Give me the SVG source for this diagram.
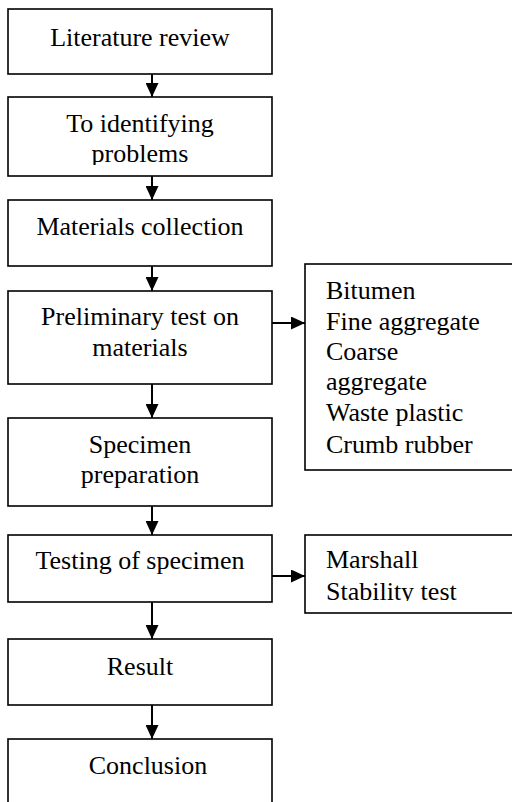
<svg xmlns="http://www.w3.org/2000/svg" width="512" height="802" viewBox="0 0 512 802">
<style>
.box{fill:#fff;stroke:#000;stroke-width:1.6}
.t{font-family:"Liberation Serif","Times New Roman",serif;font-size:26px;fill:#000}
.c{text-anchor:middle}
.conn{stroke:#000;stroke-width:2;fill:none}
</style>
<defs>
<marker id="ah" markerWidth="14" markerHeight="13" refX="14" refY="6.5" orient="auto" markerUnits="userSpaceOnUse">
<path d="M0,0 L14,6.5 L0,13 Z" fill="#000"/>
</marker>
<clipPath id="clip2"><rect x="0" y="97" width="280" height="68"/></clipPath>
<clipPath id="clipS2"><rect x="300" y="535" width="212" height="66"/></clipPath>
</defs>
<rect width="512" height="802" fill="#fff"/>
<g id="connectors">
<line class="conn" x1="152" y1="74" x2="152" y2="97" marker-end="url(#ah)"/>
<line class="conn" x1="152" y1="176" x2="152" y2="200" marker-end="url(#ah)"/>
<line class="conn" x1="152" y1="266" x2="152" y2="291" marker-end="url(#ah)"/>
<line class="conn" x1="152" y1="384" x2="152" y2="418" marker-end="url(#ah)"/>
<line class="conn" x1="152" y1="506" x2="152" y2="535" marker-end="url(#ah)"/>
<line class="conn" x1="152" y1="602" x2="152" y2="639" marker-end="url(#ah)"/>
<line class="conn" x1="152" y1="705" x2="152" y2="739" marker-end="url(#ah)"/>
<line class="conn" x1="272" y1="323" x2="305" y2="323" marker-end="url(#ah)"/>
<line class="conn" x1="272" y1="576" x2="305" y2="576" marker-end="url(#ah)"/>
</g>
<g id="n1">
<rect class="box" x="8" y="9" width="264" height="65"/>
<text class="t c" x="140" y="46">Literature review</text>
</g>
<g id="n2">
<rect class="box" x="8" y="97" width="264" height="79"/>
<g clip-path="url(#clip2)">
<text class="t c" x="140" y="132">To identifying</text>
<text class="t c" x="140" y="162">problems</text>
</g>
</g>
<g id="n3">
<rect class="box" x="8" y="200" width="264" height="66"/>
<text class="t c" x="140" y="235">Materials collection</text>
</g>
<g id="n4">
<rect class="box" x="8" y="291" width="264" height="93"/>
<text class="t c" x="140" y="325">Preliminary test on</text>
<text class="t c" x="140" y="356">materials</text>
</g>
<g id="s1">
<rect class="box" x="305" y="264" width="215" height="206"/>
<text class="t" x="326" y="299">Bitumen</text>
<text class="t" x="326" y="330">Fine aggregate</text>
<text class="t" x="326" y="360">Coarse</text>
<text class="t" x="326" y="390">aggregate</text>
<text class="t" x="326" y="421">Waste plastic</text>
<text class="t" x="326" y="453">Crumb rubber</text>
</g>
<g id="n5">
<rect class="box" x="8" y="418" width="264" height="88"/>
<text class="t c" x="140" y="453">Specimen</text>
<text class="t c" x="140" y="483">preparation</text>
</g>
<g id="n6">
<rect class="box" x="8" y="535" width="264" height="67"/>
<text class="t c" x="140" y="569">Testing of specimen</text>
</g>
<g id="s2">
<rect class="box" x="305" y="535" width="215" height="78"/>
<g clip-path="url(#clipS2)">
<text class="t" x="326" y="568">Marshall</text>
<text class="t" x="326" y="600">Stability test</text>
</g>
</g>
<g id="n7">
<rect class="box" x="8" y="639" width="264" height="66"/>
<text class="t c" x="140" y="675">Result</text>
</g>
<g id="n8">
<rect class="box" x="8" y="739" width="264" height="80"/>
<text class="t c" x="148" y="774">Conclusion</text>
</g>
</svg>
